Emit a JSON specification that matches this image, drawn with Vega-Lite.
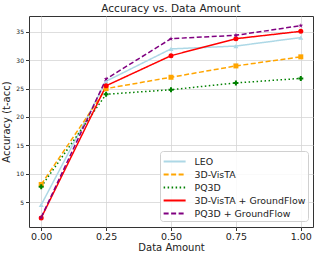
{
  "$schema": "https://vega.github.io/schema/vega-lite/v6.json",
  "width": 284,
  "height": 211,
  "autosize": {"type": "none"},
  "padding": {"left": 29, "top": 16, "right": 4, "bottom": 31},
  "background": "white",
  "config": {
    "font": "DejaVu Sans",
    "view": {"stroke": "#333333", "strokeWidth": 1},
    "axis": {"gridColor": "#d6d6d6", "gridWidth": 0.8, "domain": false, "tickColor": "#333333", "tickSize": 3.5, "labelColor": "#222222", "titleColor": "#222222", "titleFontWeight": "normal"}
  },
  "title": {"text": "Accuracy vs. Data Amount", "fontSize": 10.5, "fontWeight": "normal", "color": "#222222", "offset": 2},
  "data": {"values": [
    {"x": 0, "y": 4.5, "s": "LEO"},
    {"x": 0.25, "y": 26.3, "s": "LEO"},
    {"x": 0.5, "y": 32.0, "s": "LEO"},
    {"x": 0.75, "y": 32.5, "s": "LEO"},
    {"x": 1.0, "y": 34.0, "s": "LEO"},
    {"x": 0, "y": 8.1, "s": "3D-VisTA"},
    {"x": 0.25, "y": 25.0, "s": "3D-VisTA"},
    {"x": 0.5, "y": 27.0, "s": "3D-VisTA"},
    {"x": 0.75, "y": 29.0, "s": "3D-VisTA"},
    {"x": 1.0, "y": 30.6, "s": "3D-VisTA"},
    {"x": 0, "y": 7.7, "s": "PQ3D"},
    {"x": 0.25, "y": 24.0, "s": "PQ3D"},
    {"x": 0.5, "y": 24.8, "s": "PQ3D"},
    {"x": 0.75, "y": 26.0, "s": "PQ3D"},
    {"x": 1.0, "y": 26.8, "s": "PQ3D"},
    {"x": 0, "y": 2.2, "s": "3D-VisTA + GroundFlow"},
    {"x": 0.25, "y": 25.5, "s": "3D-VisTA + GroundFlow"},
    {"x": 0.5, "y": 30.8, "s": "3D-VisTA + GroundFlow"},
    {"x": 0.75, "y": 33.8, "s": "3D-VisTA + GroundFlow"},
    {"x": 1.0, "y": 35.1, "s": "3D-VisTA + GroundFlow"},
    {"x": 0, "y": 2.3, "s": "PQ3D + GroundFlow"},
    {"x": 0.25, "y": 26.7, "s": "PQ3D + GroundFlow"},
    {"x": 0.5, "y": 33.8, "s": "PQ3D + GroundFlow"},
    {"x": 0.75, "y": 34.4, "s": "PQ3D + GroundFlow"},
    {"x": 1.0, "y": 36.1, "s": "PQ3D + GroundFlow"}
  ]},
  "encoding": {
    "x": {"field": "x", "type": "quantitative",
      "scale": {"domain": [-0.047, 1.047], "nice": false, "zero": false},
      "axis": {"values": [0, 0.25, 0.5, 0.75, 1.0], "format": ".2f", "title": "Data Amount", "labelFontSize": 9.5, "titleFontSize": 10, "labelPadding": 1, "titlePadding": 1}},
    "y": {"field": "y", "type": "quantitative",
      "scale": {"domain": [0.6, 37.8], "nice": false, "zero": false},
      "axis": {"values": [5, 10, 15, 20, 25, 30, 35], "title": "Accuracy (t-acc)", "labelFontSize": 6, "titleFontSize": 10, "labelPadding": 2, "titlePadding": 4}},
    "color": {"field": "s", "type": "nominal",
      "scale": {"domain": ["LEO", "3D-VisTA", "PQ3D", "3D-VisTA + GroundFlow", "PQ3D + GroundFlow"],
                "range": ["#add8e6", "#ffa500", "#008000", "#ff0000", "#800080"]},
      "legend": {"title": null, "orient": "none", "legendX": 131, "legendY": 135,
        "labelFontSize": 9.4, "labelColor": "#222222", "symbolType": "M-1,0L2.2,0", "symbolSize": 189, "symbolStrokeWidth": 1.8,
        "rowPadding": 0, "padding": 2.5, "strokeColor": "#d0d0d0", "fillColor": "rgba(255,255,255,0.85)", "cornerRadius": 3, "labelOffset": 16}}
  },
  "resolve": {"legend": {"shape": "independent", "size": "independent", "strokeWidth": "independent"}},
  "layer": [
    {
      "mark": {"type": "line"},
      "encoding": {
        "strokeDash": {"field": "s", "type": "nominal",
          "scale": {"domain": ["LEO", "3D-VisTA", "PQ3D", "3D-VisTA + GroundFlow", "PQ3D + GroundFlow"],
                    "range": [[1, 0], [5, 2.5], [1.5, 2.5], [1, 0], [5, 2.5]]}},
        "strokeWidth": {"field": "s", "type": "nominal",
          "scale": {"domain": ["LEO", "3D-VisTA", "PQ3D", "3D-VisTA + GroundFlow", "PQ3D + GroundFlow"],
                    "range": [1.5, 1.5, 1.5, 1.8, 1.5]}, "legend": null}
      }
    },
    {
      "mark": {"type": "point", "filled": true, "opacity": 1},
      "encoding": {
        "shape": {"field": "s", "type": "nominal",
          "scale": {"domain": ["LEO", "3D-VisTA", "PQ3D", "3D-VisTA + GroundFlow", "PQ3D + GroundFlow"],
                    "range": ["triangle-up", "square", "cross", "circle", "M0,-1L0.2245,-0.309L0.951,-0.309L0.363,0.118L0.588,0.809L0,0.382L-0.588,0.809L-0.363,0.118L-0.951,-0.309L-0.2245,-0.309Z"]}, "legend": null},
        "size": {"value": 25}
      }
    }
  ]
}
